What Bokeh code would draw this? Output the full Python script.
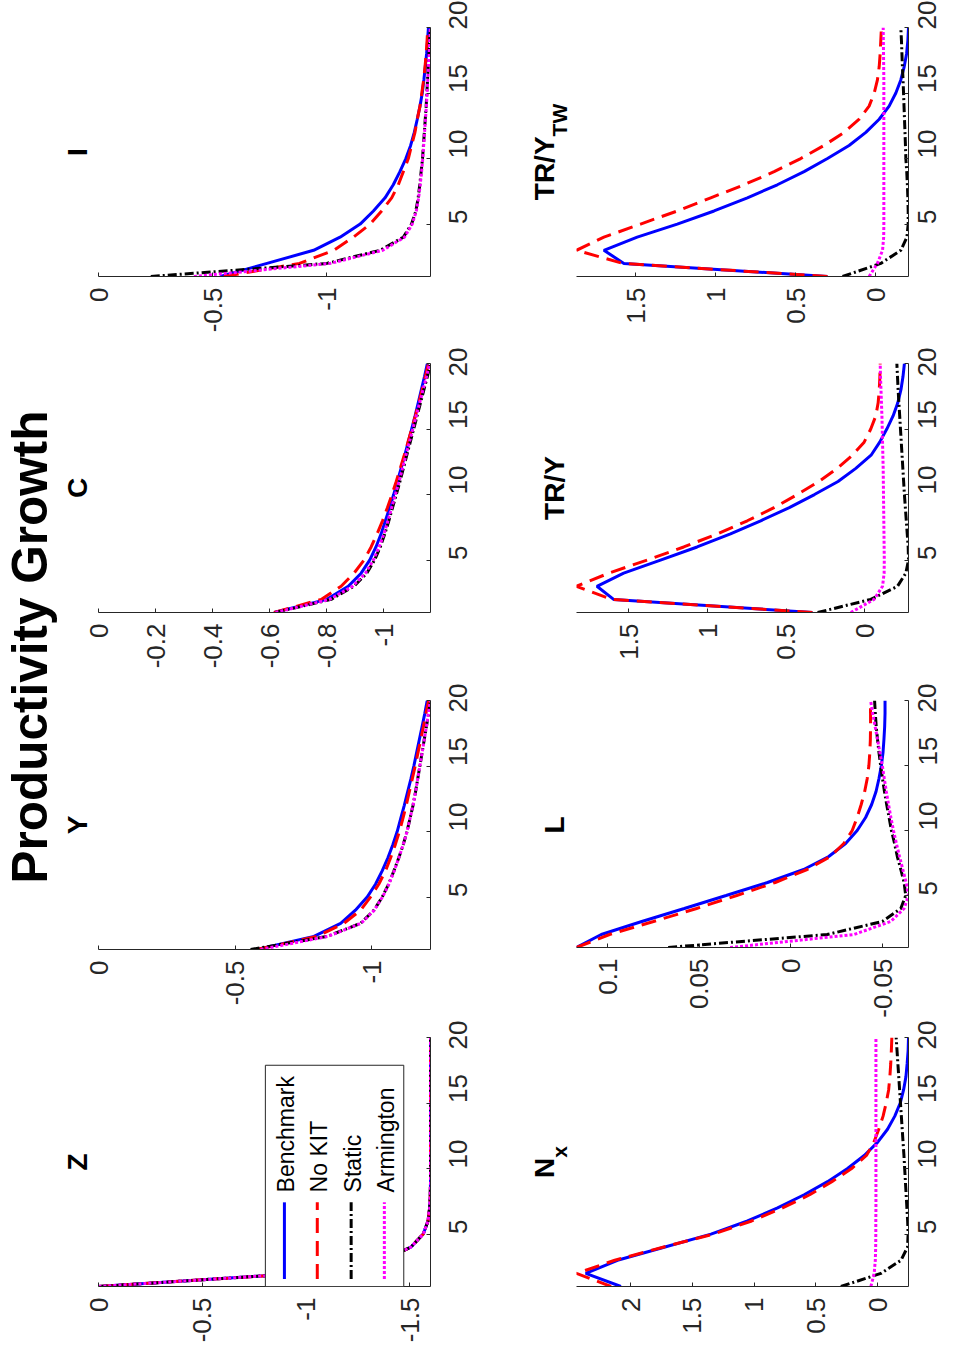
import math
from bokeh.plotting import figure
from bokeh.models import Range1d, FixedTicker, Label, BoxAnnotation
from bokeh.layouts import row, column
from bokeh.embed import file_html
from bokeh.resources import INLINE

# ---------------- data ----------------
periods = list(range(1, 21))
series_names = ["Benchmark", "No KIT", "Static", "Armington"]

Z_bench = [0, -0.98, -1.37, -1.505, -1.565, -1.588, -1.596, -1.599, -1.6, -1.6,
           -1.6, -1.6, -1.6, -1.6, -1.6, -1.6, -1.6, -1.6, -1.6, -1.6]
Z_nokit = [0, -0.98, -1.37, -1.505, -1.565, -1.588, -1.596, -1.599, -1.6, -1.6,
           -1.6, -1.6, -1.6, -1.6, -1.6, -1.6, -1.6, -1.6, -1.6, -1.6]
Z_static = [0, -0.98, -1.37, -1.505, -1.565, -1.588, -1.596, -1.599, -1.6, -1.6,
            -1.6, -1.6, -1.6, -1.6, -1.6, -1.6, -1.6, -1.6, -1.6, -1.6]
Z_arm = [0, -0.98, -1.37, -1.505, -1.565, -1.588, -1.596, -1.599, -1.6, -1.6,
         -1.6, -1.6, -1.6, -1.6, -1.6, -1.6, -1.6, -1.6, -1.6, -1.6]

Y_bench = [-0.58, -0.789, -0.887, -0.941, -0.984, -1.015, -1.039, -1.06, -1.078, -1.094,
           -1.107, -1.12, -1.132, -1.144, -1.155, -1.165, -1.175, -1.185, -1.195, -1.204]
Y_nokit = [-0.58, -0.80, -0.899, -0.96, -0.996, -1.027, -1.051, -1.07, -1.087, -1.102,
           -1.115, -1.127, -1.138, -1.149, -1.16, -1.17, -1.18, -1.19, -1.199, -1.209]
Y_static = [-0.557, -0.838, -0.96, -1.009, -1.039, -1.063, -1.082, -1.1, -1.116, -1.13,
            -1.141, -1.152, -1.161, -1.169, -1.177, -1.185, -1.193, -1.201, -1.209, -1.216]
Y_arm = [-0.594, -0.84, -0.962, -1.01, -1.04, -1.064, -1.083, -1.1, -1.116, -1.13,
         -1.141, -1.152, -1.161, -1.169, -1.177, -1.185, -1.193, -1.201, -1.208, -1.215]

C_bench = [-0.615, -0.80, -0.875, -0.92, -0.95, -0.972, -0.99, -1.005, -1.02, -1.034,
           -1.047, -1.06, -1.073, -1.085, -1.097, -1.109, -1.12, -1.131, -1.142, -1.152]
C_nokit = [-0.615, -0.78, -0.85, -0.895, -0.93, -0.955, -0.976, -0.995, -1.012, -1.028,
           -1.043, -1.057, -1.071, -1.084, -1.097, -1.11, -1.122, -1.134, -1.145, -1.156]
C_static = [-0.62, -0.815, -0.895, -0.94, -0.967, -0.987, -1.003, -1.017, -1.03, -1.043,
            -1.056, -1.068, -1.08, -1.092, -1.104, -1.116, -1.128, -1.14, -1.152, -1.163]
C_arm = [-0.62, -0.81, -0.89, -0.935, -0.963, -0.983, -1.0, -1.014, -1.027, -1.04,
         -1.053, -1.065, -1.077, -1.089, -1.101, -1.113, -1.125, -1.137, -1.149, -1.16]

I_bench = [-0.534, -0.738, -0.942, -1.058, -1.146, -1.204, -1.255, -1.291, -1.32, -1.346,
           -1.367, -1.383, -1.396, -1.408, -1.418, -1.425, -1.431, -1.437, -1.441, -1.445]
I_nokit = [-0.549, -0.88, -1.03, -1.116, -1.19, -1.24, -1.284, -1.313, -1.335, -1.357,
           -1.371, -1.386, -1.396, -1.408, -1.416, -1.424, -1.43, -1.435, -1.439, -1.442]
I_static = [-0.229, -1.0, -1.233, -1.335, -1.371, -1.39, -1.40, -1.407, -1.413, -1.419,
            -1.423, -1.427, -1.431, -1.435, -1.438, -1.441, -1.444, -1.447, -1.45, -1.454]
I_arm = [-0.418, -1.015, -1.245, -1.34, -1.374, -1.392, -1.402, -1.409, -1.415, -1.42,
         -1.424, -1.428, -1.432, -1.436, -1.439, -1.442, -1.445, -1.448, -1.451, -1.453]

Nx_bench = [2.08, 2.365, 2.108, 1.73, 1.35, 1.054, 0.81, 0.595, 0.405, 0.243,
            0.108, 0.0, -0.081, -0.14, -0.184, -0.211, -0.23, -0.24, -0.248, -0.251]
Nx_nokit = [2.16, 2.44, 2.13, 1.74, 1.33, 1.02, 0.77, 0.55, 0.37, 0.21,
            0.09, 0.03, -0.01, -0.045, -0.07, -0.09, -0.1, -0.107, -0.112, -0.116]
Nx_static = [0.297, -0.027, -0.19, -0.243, -0.248, -0.244, -0.238, -0.232, -0.226, -0.22,
             -0.214, -0.207, -0.2, -0.193, -0.186, -0.179, -0.172, -0.165, -0.158, -0.151]
Nx_arm = [0.054, 0.027, 0.018, 0.015, 0.014, 0.014, 0.013, 0.013, 0.013, 0.013,
          0.013, 0.013, 0.013, 0.013, 0.013, 0.013, 0.013, 0.013, 0.013, 0.013]

L_bench = [0.117, 0.1035, 0.0814, 0.0582, 0.0354, 0.0128, -0.0069, -0.0206, -0.0298, -0.0361,
           -0.0407, -0.044, -0.0464, -0.048, -0.0493, -0.0502, -0.0507, -0.0511, -0.0513, -0.0513]
L_nokit = [0.117, 0.099, 0.075, 0.0515, 0.0296, 0.0086, -0.0088, -0.0215, -0.0288, -0.0334,
           -0.0361, -0.0383, -0.0402, -0.0416, -0.0425, -0.043, -0.0433, -0.0434, -0.0434, -0.0433]
L_static = [0.067, -0.0197, -0.0498, -0.0599, -0.0626, -0.0617, -0.0599, -0.058, -0.0565, -0.0548,
            -0.0535, -0.0522, -0.051, -0.0499, -0.0489, -0.048, -0.0472, -0.0465, -0.046, -0.0456]
L_arm = [0.0332, -0.0343, -0.0544, -0.0617, -0.0641, -0.0628, -0.061, -0.0592, -0.0575, -0.0559,
         -0.0545, -0.0532, -0.052, -0.0509, -0.0498, -0.0485, -0.0472, -0.0459, -0.0446, -0.0434]

TRY_bench = [0.333, 1.597, 1.703, 1.533, 1.299, 1.066, 0.854, 0.662, 0.48, 0.32,
             0.17, 0.057, -0.04, -0.095, -0.14, -0.18, -0.21, -0.23, -0.243, -0.252]
TRY_nokit = [0.333, 1.61, 1.833, 1.628, 1.384, 1.151, 0.938, 0.747, 0.577, 0.429,
             0.291, 0.174, 0.079, 0.004, -0.038, -0.07, -0.085, -0.092, -0.096, -0.098]
TRY_static = [0.30, -0.038, -0.208, -0.261, -0.278, -0.276, -0.27, -0.264, -0.258, -0.252,
              -0.247, -0.242, -0.237, -0.232, -0.227, -0.222, -0.217, -0.212, -0.208, -0.204]
TRY_arm = [0.089, -0.059, -0.113, -0.123, -0.124, -0.123, -0.122, -0.121, -0.12, -0.119,
           -0.118, -0.117, -0.115, -0.113, -0.111, -0.109, -0.106, -0.103, -0.1, -0.098]

TW_bench = [0.302, 1.573, 1.698, 1.49, 1.24, 1.01, 0.802, 0.615, 0.448, 0.302,
            0.167, 0.0625, -0.021, -0.083, -0.125, -0.156, -0.177, -0.192, -0.2, -0.204]
TW_nokit = [0.302, 1.58, 1.869, 1.698, 1.469, 1.24, 1.031, 0.823, 0.635, 0.469,
            0.323, 0.198, 0.104, 0.042, 0.01, -0.01, -0.021, -0.027, -0.031, -0.035]
TW_static = [0.208, -0.031, -0.156, -0.194, -0.202, -0.202, -0.2, -0.197, -0.193, -0.1875,
             -0.185, -0.182, -0.179, -0.176, -0.173, -0.17, -0.166, -0.163, -0.16, -0.156]
TW_arm = [0.042, -0.01, -0.042, -0.049, -0.05, -0.05, -0.05, -0.05, -0.05, -0.05,
          -0.05, -0.05, -0.05, -0.05, -0.05, -0.05, -0.049, -0.048, -0.047, -0.046]

time_ticks = [5, 10, 15, 20]
time_labels = ["5", "10", "15", "20"]

Z_ticks = [0, -0.5, -1, -1.5]
Z_labels = ["0", "-0.5", "-1", "-1.5"]
Y_ticks = [0, -0.5, -1]
Y_labels = ["0", "-0.5", "-1"]
C_ticks = [0, -0.2, -0.4, -0.6, -0.8, -1]
C_labels = ["0", "-0.2", "-0.4", "-0.6", "-0.8", "-1"]
I_ticks = [0, -0.5, -1]
I_labels = ["0", "-0.5", "-1"]
Nx_ticks = [0, 0.5, 1, 1.5, 2]
Nx_labels = ["0", "0.5", "1", "1.5", "2"]
L_ticks = [-0.05, 0, 0.05, 0.1]
L_labels = ["-0.05", "0", "0.05", "0.1"]
TRY_ticks = [0, 0.5, 1, 1.5]
TRY_labels = ["0", "0.5", "1", "1.5"]
TW_ticks = [0, 0.5, 1, 1.5]
TW_labels = ["0", "0.5", "1", "1.5"]

# ---------------- styling / layout ----------------
FONT = "Liberation Sans"
AX = "#262626"
styles = [("#0000ff", "solid"), ("#ff0000", "15 8"), ("#000000", "9 3 2 3"), ("#ff00ff", "3 2")]
LW = 3
FW, FH = 332, 249
PAGE_H = 1352

heights = [347, 336, 337, 332]
tops = [27, 16, 17, 17]
bottoms = [71, 71, 71, 66]


def make_panel(data, ticks, labels, width, height, bl, br, bt, bb, time_standoff, title=None):
    allv = [v for s in data for v in s] + [0]
    vmax, vmin = max(allv), min(allv)
    kw = {}
    if title is not None:
        kw = dict(title=title, title_location="left")
    p = figure(width=width, height=height, x_range=Range1d(vmax, vmin), y_range=Range1d(1, 20),
               output_backend="svg", toolbar_location=None, y_axis_location="right",
               min_border_left=bl, min_border_right=br, min_border_top=bt, min_border_bottom=bb,
               **kw)
    p.outline_line_color = None
    p.grid.visible = False
    if title is not None:
        p.title.align = "center"
        p.title.vertical_align = "top"
        p.title.standoff = 7
        p.title.offset = 0
        p.title.text_font = FONT
        p.title.text_font_style = "bold"
        p.title.text_font_size = "28px"
        p.title.text_color = "black"
    for ax, tk, lb, so in ((p.xaxis[0], ticks, labels, 11),
                           (p.yaxis[0], time_ticks, time_labels, time_standoff)):
        ax.ticker = FixedTicker(ticks=tk)
        ax.major_label_overrides = {t: l for t, l in zip(tk, lb)}
        ax.major_label_orientation = math.pi / 2
        ax.major_tick_in = 4
        ax.major_tick_out = 0
        ax.minor_tick_line_color = None
        ax.axis_line_color = AX
        ax.major_tick_line_color = AX
        ax.major_label_text_font = FONT
        ax.major_label_text_font_size = "26px"
        ax.major_label_text_color = AX
        ax.major_label_standoff = so
    for s, (col, dash) in zip(data, styles):
        p.line(x=s, y=periods, line_color=col, line_dash=dash, line_width=LW)
    return p


left_specs = [("I", [I_bench, I_nokit, I_static, I_arm], I_ticks, I_labels),
              ("C", [C_bench, C_nokit, C_static, C_arm], C_ticks, C_labels),
              ("Y", [Y_bench, Y_nokit, Y_static, Y_arm], Y_ticks, Y_labels),
              ("Z", [Z_bench, Z_nokit, Z_static, Z_arm], Z_ticks, Z_labels)]
right_specs = [(("TR/Y", "TW"), [TW_bench, TW_nokit, TW_static, TW_arm], TW_ticks, TW_labels),
               (("TR/Y", None), [TRY_bench, TRY_nokit, TRY_static, TRY_arm], TRY_ticks, TRY_labels),
               (("L", None), [L_bench, L_nokit, L_static, L_arm], L_ticks, L_labels),
               (("N", "x"), [Nx_bench, Nx_nokit, Nx_static, Nx_arm], Nx_ticks, Nx_labels)]

left_figs = [make_panel(d, tk, lb, 446, heights[i], 41, 73, tops[i], bottoms[i], 28, title=t)
             for i, (t, d, tk, lb) in enumerate(left_specs)]
right_figs = [make_panel(d, tk, lb, 381, heights[i], 0, 49, tops[i], bottoms[i], 19)
              for i, (t, d, tk, lb) in enumerate(right_specs)]

# ---- legend inside the Z panel (positions as fractions of the frame) ----
pz = left_figs[3]


def fx(f):
    return pz.x_range.start + f * (pz.x_range.end - pz.x_range.start)


def fy(f):
    return pz.y_range.start + f * (pz.y_range.end - pz.y_range.start)


pz.add_layout(BoxAnnotation(left=fx(0.5026), right=fx(0.9195), bottom=fy(0.0), top=fy(0.8885),
                            fill_color="white", fill_alpha=1.0, line_color=AX, line_width=1,
                            line_alpha=1.0, level="annotation"))
leg_x = [0.560, 0.659, 0.761, 0.861]
for name, lx, (col, dash) in zip(series_names, leg_x, styles):
    pz.line(x=[fx(lx), fx(lx)], y=[fy(0.030), fy(0.338)], line_color=col, line_dash=dash,
            line_width=LW, level="overlay")
    pz.add_layout(Label(x=fx(lx + 0.005), y=fy(0.378), text=name, angle=math.pi / 2,
                        text_align="left", text_baseline="middle", text_font=FONT,
                        text_font_size="23px", text_color="black", level="overlay"))

# ---- main title strip (page coordinates) ----
tf = figure(width=57, height=PAGE_H, x_range=Range1d(0, 57), y_range=Range1d(PAGE_H, 0),
            output_backend="svg", toolbar_location=None, x_axis_location=None,
            y_axis_location=None, min_border=0)
tf.outline_line_color = None
tf.grid.visible = False
tf.add_layout(Label(x=28.5, y=646.5, text="Productivity Growth", angle=math.pi / 2,
                    text_align="center", text_baseline="middle", text_font=FONT,
                    text_font_style="bold", text_font_size="49.5px", text_color="black"))

# ---- title strip for the right column (page coordinates) ----
rs = figure(width=73, height=PAGE_H, x_range=Range1d(503, 576), y_range=Range1d(PAGE_H, 0),
            output_backend="svg", toolbar_location=None, x_axis_location=None,
            y_axis_location=None, min_border=0)
rs.outline_line_color = None
rs.grid.visible = False
adv = {"N": 0.722, "TR/Y": 2.278, "L": 0.611, "x": 0.556, "TW": 1.555}
y0 = 0
for i, ((main, sub), _, _, _) in enumerate(right_specs):
    mid = y0 + tops[i] + FH / 2
    y0 += heights[i]
    if sub is None:
        rs.add_layout(Label(x=553.5, y=mid, text=main, angle=math.pi / 2, text_align="center",
                            text_baseline="middle", text_font=FONT, text_font_style="bold",
                            text_font_size="28px", text_color="black"))
    else:
        wm, wsub = adv[main] * 28, adv[sub] * 21
        start = mid + (wm + wsub) / 2
        rs.add_layout(Label(x=543.5, y=start, text=main, angle=math.pi / 2, text_align="left",
                            text_baseline="middle", text_font=FONT, text_font_style="bold",
                            text_font_size="28px", text_color="black"))
        rs.add_layout(Label(x=558.5, y=start - wm, text=sub, angle=math.pi / 2, text_align="left",
                            text_baseline="middle", text_font=FONT, text_font_style="bold",
                            text_font_size="21px", text_color="black"))

layout = row(tf, column(*left_figs), rs, column(*right_figs))
open("out.html", "w").write(file_html(layout, INLINE))
